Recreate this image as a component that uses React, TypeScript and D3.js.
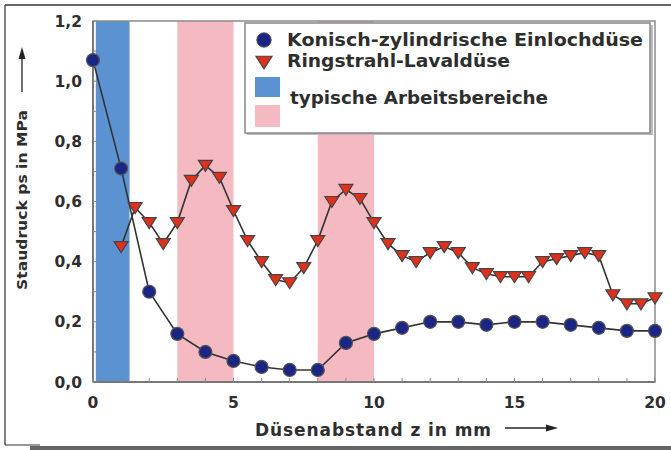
import React from "react";
import * as d3 from "d3";

const konischX = [0, 1, 2, 3, 4, 5, 6, 7, 8, 9, 10, 11, 12, 13, 14, 15, 16, 17, 18, 19, 20];
const konischY = [1.07, 0.71, 0.30, 0.16, 0.10, 0.07, 0.05, 0.04, 0.04, 0.13, 0.16, 0.18, 0.20, 0.20, 0.19, 0.20, 0.20, 0.19, 0.18, 0.17, 0.17];

const ringX = [1, 1.5, 2, 2.5, 3, 3.5, 4, 4.5, 5, 5.5, 6, 6.5, 7, 7.5, 8, 8.5, 9, 9.5, 10, 10.5, 11, 11.5, 12, 12.5, 13, 13.5, 14, 14.5, 15, 15.5, 16, 16.5, 17, 17.5, 18, 18.5, 19, 19.5, 20];
const ringY = [0.45, 0.58, 0.53, 0.46, 0.53, 0.67, 0.72, 0.68, 0.57, 0.47, 0.40, 0.34, 0.33, 0.38, 0.47, 0.60, 0.64, 0.61, 0.53, 0.46, 0.42, 0.40, 0.43, 0.45, 0.43, 0.38, 0.36, 0.35, 0.35, 0.35, 0.40, 0.41, 0.42, 0.43, 0.42, 0.29, 0.26, 0.26, 0.28];

const blueBands = [[0.1, 1.3]];
const pinkBands = [[3, 5], [8, 10]];

const xTicks = [0, 5, 10, 15, 20];
const yTicks = [0, 0.2, 0.4, 0.6, 0.8, 1.0, 1.2];
const xMinor = [0, 1, 2, 3, 4, 5, 6, 7, 8, 9, 10, 11, 12, 13, 14, 15, 16, 17, 18, 19, 20];
const yMinor = [0.1, 0.3, 0.5, 0.7, 0.9, 1.1];

const legendLabels = ["Konisch-zylindrische Einlochdüse", "Ringstrahl-Lavaldüse", "typische Arbeitsbereiche"];
const xTitle = "Düsenabstand z in mm";
const yTitle = "Staudruck ps in MPa";

const W = 671;
const H = 450;
const font = "'DejaVu Sans', Verdana, sans-serif";
const txt = "#2e2e2e";

const navy = "#1b2583";
const red = "#e0301c";
const blue = "#5b92d2";
const pink = "#f5b9c2";

const tri = "M-7,-5L7,-5L0,6Z";

export default function App() {
  const x = d3.scaleLinear().domain([0, 20]).range([93, 655]);
  const y = d3.scaleLinear().domain([0, 1.2]).range([382, 21]);

  const line = d3.line<[number, number]>().x(d => x(d[0])).y(d => y(d[1]));
  const konPts = konischX.map((v, i) => [v, konischY[i]] as [number, number]);
  const ringPts = ringX.map((v, i) => [v, ringY[i]] as [number, number]);

  const fmt = (v: number) => d3.format(".1f")(v).replace(".", ",");

  return (
    <svg width={W} height={H} style={{ position: "absolute", left: 0, top: 0, background: "#fff" }} fontFamily={font}>
      {/* outer frame */}
      <line x1={5} y1={5} x2={W} y2={5} stroke="#333" strokeWidth={1.5} />
      <line x1={5} y1={5} x2={5} y2={445} stroke="#555" strokeWidth={1.5} />
      <line x1={5} y1={445} x2={40} y2={445} stroke="#333" strokeWidth={1} />
      <rect x={30} y={446} width={W - 30} height={4} fill="#666" />

      {/* bands */}
      {blueBands.map((b, i) => (
        <rect key={"b" + i} x={x(b[0])} y={y(1.2)} width={x(b[1]) - x(b[0])} height={y(0) - y(1.2)} fill={blue} />
      ))}
      {pinkBands.map((b, i) => (
        <rect key={"p" + i} x={x(b[0])} y={y(1.2)} width={x(b[1]) - x(b[0])} height={y(0) - y(1.2)} fill={pink} />
      ))}

      {/* plot frame */}
      <rect x={x(0)} y={y(1.2)} width={x(20) - x(0)} height={y(0) - y(1.2)} fill="none" stroke="#8a8a8a" strokeWidth={1.5} />
      <line x1={x(0)} y1={y(1.2)} x2={x(0)} y2={y(0)} stroke="#777" strokeWidth={2} />
      <line x1={x(0)} y1={y(0)} x2={x(20)} y2={y(0)} stroke="#777" strokeWidth={2} />

      {xMinor.map(t => (
        <line key={"xm" + t} x1={x(t)} x2={x(t)} y1={y(0)} y2={y(0) - 4} stroke="#888" strokeWidth={1} />
      ))}
      {yTicks.concat(yMinor).map(t => (
        <line key={"ym" + t} x1={x(0)} x2={x(0) + 4} y1={y(t)} y2={y(t)} stroke="#888" strokeWidth={1} />
      ))}

      {/* tick labels */}
      {yTicks.map(t => (
        <text key={"yl" + t} x={82} y={y(t) + 5.5} textAnchor="end" fontSize={15.5} fontWeight="bold" fill={txt}>
          {fmt(t)}
        </text>
      ))}
      {xTicks.map(t => (
        <text key={"xl" + t} x={x(t)} y={408} textAnchor="middle" fontSize={15.5} fontWeight="bold" fill={txt}>
          {t}
        </text>
      ))}

      {/* axis titles */}
      <text x={255} y={436} fontSize={17} fontWeight="bold" fill={txt} textLength={236} lengthAdjust="spacing">{xTitle}</text>
      <line x1={505} y1={428} x2={552} y2={428} stroke="#222" strokeWidth={1.3} />
      <path d="M558,428L546,424.5L546,431.5Z" fill="#222" />

      <text transform="translate(27,290) rotate(-90)" fontSize={14.5} fontWeight="bold" fill={txt} textLength={180} lengthAdjust="spacingAndGlyphs">{yTitle}</text>
      <line x1={22} y1={92} x2={22} y2={54} stroke="#222" strokeWidth={1.3} />
      <path d="M22,47L18.5,59L25.5,59Z" fill="#222" />

      {/* series */}
      <path d={line(konPts) || ""} fill="none" stroke="#333" strokeWidth={1.6} />
      <path d={line(ringPts) || ""} fill="none" stroke="#333" strokeWidth={1.6} />
      {konPts.map((p, i) => (
        <circle key={"k" + i} cx={x(p[0])} cy={y(p[1])} r={6.5} fill={navy} stroke="#555" strokeWidth={1.2} />
      ))}
      {ringPts.map((p, i) => (
        <path key={"r" + i} d={tri} transform={`translate(${x(p[0])},${y(p[1])})`} fill={red} stroke="#444" strokeWidth={1.2} />
      ))}

      {/* legend */}
      <rect x={247} y={25} width={406} height={110} fill="#bbb" />
      <rect x={245} y={23} width={405} height={110} fill="#fff" stroke="#888" strokeWidth={1.5} />
      <circle cx={264} cy={40} r={7.2} fill={navy} stroke="#555" strokeWidth={1} />
      <path d={tri} transform="translate(264,62) scale(1.15)" fill={red} stroke="#444" strokeWidth={1} />
      <rect x={255} y={77} width={25} height={20} fill={blue} />
      <rect x={255} y={105} width={25} height={22} fill={pink} />
      <text x={287} y={46} fontSize={17} fontWeight="bold" fill={txt} textLength={356} lengthAdjust="spacingAndGlyphs">{legendLabels[0]}</text>
      <text x={287} y={67} fontSize={17} fontWeight="bold" fill={txt} textLength={223} lengthAdjust="spacingAndGlyphs">{legendLabels[1]}</text>
      <text x={290} y={104} fontSize={17} fontWeight="bold" fill={txt} textLength={258} lengthAdjust="spacingAndGlyphs">{legendLabels[2]}</text>
    </svg>
  );
}
